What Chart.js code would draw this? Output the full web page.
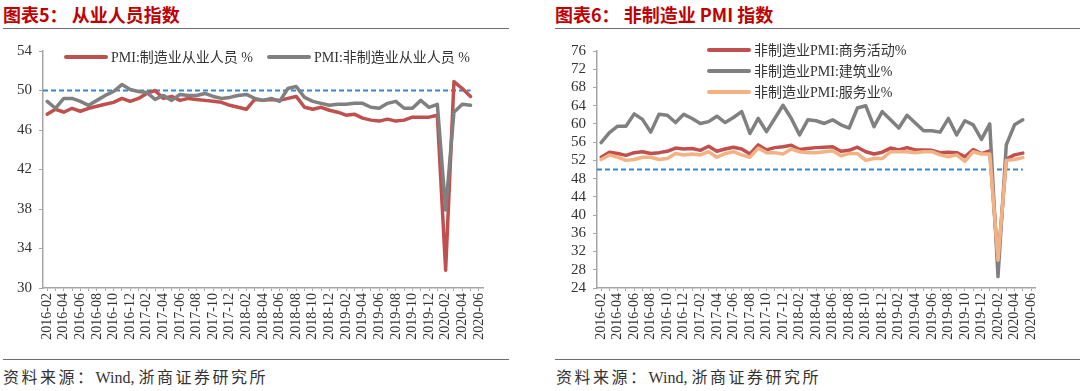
<!DOCTYPE html>
<html>
<head>
<meta charset="utf-8">
<script src="https://cdn.jsdelivr.net/npm/chart.js@4.4.1/dist/chart.umd.min.js"></script>
<style>
  body { margin: 0; background: #fff; width: 1080px; height: 391px; position: relative; overflow: hidden; }
  .title { position: absolute; top: 3px; font: bold 18px "Noto Sans CJK SC", sans-serif; color: #c00000; white-space: pre; line-height: 22px; }
  .rule { position: absolute; height: 1px; background: #6e6e6e; }
  .src { position: absolute; top: 367px; font: 16px "Liberation Serif", "Noto Sans CJK SC", serif; color: #333; letter-spacing: 2.5px; line-height: 22px; }
  .src span { letter-spacing: 0; }
  .box { position: absolute; top: 30px; }
</style>
</head>
<body>
<div class="title" style="left:3px">图表5： 从业人员指数</div>
<div class="title" style="left:555px">图表6： 非制造业 PMI 指数</div>
<div class="rule" style="left:3px;width:506px;top:28px"></div>
<div class="rule" style="left:555px;width:525px;top:28px"></div>
<div class="rule" style="left:3px;width:506px;top:359px"></div>
<div class="rule" style="left:555px;width:525px;top:359px"></div>
<div class="src" style="left:3px">资料来源：<span>Wind, </span>浙商证券研究所</div>
<div class="src" style="left:556px">资料来源：<span>Wind, </span>浙商证券研究所</div>

<div class="box" style="left:0"><canvas id="empChart" width="520" height="325"></canvas></div>
<div class="box" style="left:550px"><canvas id="pmiChart" width="500" height="325"></canvas></div>

<script>
// months on the x axis
const months = [
  '2016-02','2016-03','2016-04','2016-05','2016-06','2016-07','2016-08','2016-09','2016-10','2016-11','2016-12',
  '2017-01','2017-02','2017-03','2017-04','2017-05','2017-06','2017-07','2017-08','2017-09','2017-10','2017-11','2017-12',
  '2018-01','2018-02','2018-03','2018-04','2018-05','2018-06','2018-07','2018-08','2018-09','2018-10','2018-11','2018-12',
  '2019-01','2019-02','2019-03','2019-04','2019-05','2019-06','2019-07','2019-08','2019-09','2019-10','2019-11','2019-12',
  '2020-01','2020-02','2020-03','2020-04','2020-05','2020-06'
];

// 图表5
const empLabels = ['PMI:制造业从业人员 %', 'PMI:非制造业从业人员 %'];
const mfgEmployment = [
  47.6,48.1,47.8,48.2,47.9,48.2,48.4,48.6,48.8,49.2,48.9,
  49.2,49.7,50.0,49.2,49.4,49.0,49.2,49.1,49.0,48.9,48.8,48.5,
  48.3,48.1,49.1,49.0,49.1,49.0,49.2,49.4,48.3,48.1,48.3,48.0,
  47.8,47.5,47.6,47.2,47.0,46.9,47.1,46.9,47.0,47.3,47.3,47.3,
  47.5,31.8,50.9,50.2,49.4,null
];
const nonMfgEmployment = [
  48.9,48.2,49.2,49.2,48.9,48.5,49.0,49.5,49.9,50.6,50.1,
  49.9,49.8,49.1,49.5,49.0,49.6,49.5,49.5,49.7,49.4,49.2,49.3,
  49.5,49.6,49.2,49.0,49.2,48.9,50.2,50.4,49.3,48.9,48.7,48.5,
  48.6,48.6,48.7,48.7,48.3,48.2,48.7,48.9,48.2,48.2,49.0,48.3,
  48.6,37.9,47.8,48.6,48.5,null
];

// 图表6
const pmiLabels = ['非制造业PMI:商务活动%', '非制造业PMI:建筑业%', '非制造业PMI:服务业%'];
const businessActivity = [
  52.7,53.8,53.5,53.1,53.7,53.9,53.5,53.7,54.0,54.7,54.5,
  54.6,54.2,55.1,54.0,54.5,54.9,54.5,53.4,55.4,54.3,54.8,55.0,
  55.3,54.4,54.6,54.8,54.9,55.0,54.0,54.2,54.9,53.9,53.4,53.8,
  54.7,54.3,54.8,54.3,54.3,54.2,53.7,53.8,53.7,52.8,54.4,53.5,
  54.1,29.6,52.3,53.2,53.6,null
];
const construction = [
  55.9,58.1,59.5,59.5,62.2,61.0,58.2,62.1,61.9,60.3,62.1,
  61.2,60.1,60.5,61.7,60.3,61.4,62.7,57.9,61.2,58.3,61.2,64.1,
  61.2,57.6,60.9,60.7,60.1,60.9,59.8,59.1,63.5,64.0,59.4,62.7,
  60.9,59.1,61.9,60.2,58.5,58.5,58.2,61.2,57.6,60.7,59.8,56.6,
  60.0,26.5,55.4,59.8,60.9,null
];
const services = [
  52.2,53.2,52.7,52.0,52.2,52.7,52.7,52.2,52.4,53.5,53.2,
  53.4,53.2,53.9,52.7,53.5,53.9,53.2,52.7,54.7,53.7,53.7,53.4,
  54.5,53.9,53.7,53.7,53.9,54.1,53.0,53.5,53.5,52.0,52.4,52.4,
  53.9,53.9,53.9,53.7,53.9,53.9,53.2,52.8,53.2,51.8,53.9,53.4,
  53.4,30.1,52.0,52.2,52.6,null
];

const REF_LINE = 50;

const RED = '#c0504d', GRAY = '#808080', ORANGE = '#f4b183', AXIS = '#a6a6a6';
const serif = '"Liberation Serif", "Noto Sans CJK SC", serif';

// dashed 50 line + hand placed legend
const extras = {
  id: 'extras',
  beforeDatasetsDraw(chart, args, opts) {
    const { ctx, chartArea } = chart;
    const y = chart.scales.y.getPixelForValue(REF_LINE);
    const xEnd = chart.scales.x.getPixelForValue(opts.lastIndex);
    ctx.save();
    ctx.strokeStyle = '#2f87d6';
    ctx.lineWidth = 1.8;
    ctx.setLineDash([5, 3]);
    ctx.beginPath();
    ctx.moveTo(chartArea.left, y);
    ctx.lineTo(xEnd, y);
    ctx.stroke();
    ctx.restore();
  },
  afterDraw(chart, args, opts) {
    const ctx = chart.ctx;
    ctx.save();
    ctx.font = '14px ' + serif;
    ctx.fillStyle = '#333';
    ctx.textBaseline = 'middle';
    chart.data.datasets.forEach((ds, i) => {
      const p = opts.spots[i];
      ctx.strokeStyle = ds.borderColor;
      ctx.lineWidth = 4;
      ctx.lineCap = 'round';
      ctx.beginPath();
      ctx.moveTo(p[0], p[1]);
      ctx.lineTo(p[0] + 40, p[1]);
      ctx.stroke();
      ctx.fillText(ds.label, p[0] + 45, p[1] + 1);
    });
    ctx.restore();
  }
};

function makeChart(id, sets, yMin, yMax, yWidth, padRight, yFont, spots) {
  return new Chart(document.getElementById(id), {
    type: 'line',
    data: {
      labels: months,
      datasets: sets.map((s, i) => ({
        label: s[0],
        data: s[1],
        borderColor: s[2],
        borderWidth: 3.5,
        pointRadius: 0,
        tension: 0,
        fill: false,
        borderJoinStyle: 'round',
        borderCapStyle: 'round',
        order: sets.length - i
      }))
    },
    options: {
      responsive: false,
      animation: false,
      devicePixelRatio: 1,
      layout: { padding: { left: 0, right: padRight, top: 21, bottom: 0 } },
      plugins: {
        legend: { display: false },
        tooltip: { enabled: false },
        extras: { spots: spots, lastIndex: 51 }
      },
      scales: {
        x: {
          offset: true,
          grid: { drawOnChartArea: false, tickLength: 3, color: AXIS },
          border: { display: true, color: AXIS, width: 1.5 },
          ticks: {
            autoSkip: false, minRotation: 90, maxRotation: 90, padding: 2,
            color: '#333', font: { family: serif, size: 14 },
            callback: function (v, i) { return i % 2 === 0 ? this.getLabelForValue(v) : ''; }
          },
          afterFit: (axis) => { axis.height = 67; }
        },
        y: {
          min: yMin, max: yMax,
          grid: { drawOnChartArea: false, tickLength: 4, color: AXIS },
          border: { display: true, color: AXIS, width: 1.5 },
          ticks: { stepSize: 4, autoSkip: false, padding: 7, color: '#333', font: { family: serif, size: yFont } },
          afterFit: (axis) => { axis.width = yWidth; }
        }
      }
    },
    plugins: [extras]
  });
}

makeChart('empChart', [
  [empLabels[0], mfgEmployment, RED],
  [empLabels[1], nonMfgEmployment, GRAY]
], 30, 54, 43, 37, 15, [[66, 27], [269, 27]]);

makeChart('pmiChart', [
  [pmiLabels[0], businessActivity, RED],
  [pmiLabels[1], construction, GRAY],
  [pmiLabels[2], services, ORANGE]
], 24, 76, 47, 13, 15, [[159, 20], [159, 41], [159, 62]]);
</script>
</body>
</html>
